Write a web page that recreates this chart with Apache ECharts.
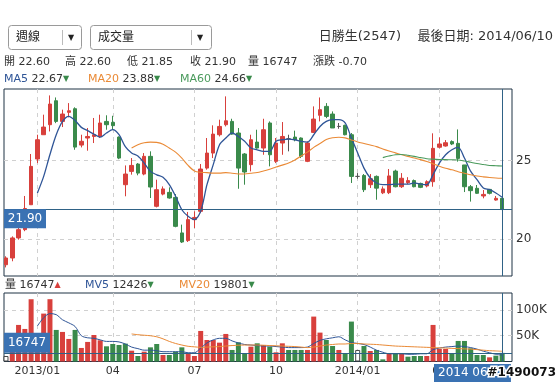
<!DOCTYPE html>
<html><head><meta charset="utf-8">
<script src="https://cdn.jsdelivr.net/npm/echarts@6/dist/echarts.min.js"></script>
<style>html,body{margin:0;padding:0;background:#fff}#c{width:558px;height:382px}</style>
</head><body><div id="c"></div>
<script>
// ---------------- data ----------------
const dates = ['2012/11/30','2012/12/07','2012/12/14','2012/12/21','2012/12/28','2013/01/04','2013/01/11','2013/01/18','2013/01/25','2013/02/01',
'2013/02/06','2013/02/22','2013/03/01','2013/03/08','2013/03/15','2013/03/22','2013/03/29','2013/04/03','2013/04/12','2013/04/19',
'2013/04/26','2013/05/03','2013/05/10','2013/05/17','2013/05/24','2013/05/31','2013/06/07','2013/06/14','2013/06/21','2013/06/28',
'2013/07/05','2013/07/12','2013/07/19','2013/07/26','2013/08/02','2013/08/09','2013/08/16','2013/08/23','2013/08/30','2013/09/06',
'2013/09/13','2013/09/20','2013/09/27','2013/10/04','2013/10/11','2013/10/18','2013/10/25','2013/11/01','2013/11/08','2013/11/15',
'2013/11/22','2013/11/29','2013/12/06','2013/12/13','2013/12/20','2013/12/27','2014/01/03','2014/01/10','2014/01/17','2014/01/24',
'2014/01/27','2014/02/07','2014/02/14','2014/02/21','2014/02/28','2014/03/07','2014/03/14','2014/03/21','2014/03/28','2014/04/03',
'2014/04/11','2014/04/18','2014/04/25','2014/05/02','2014/05/09','2014/05/16','2014/05/23','2014/05/30','2014/06/06','2014/06/10'];

const opens = [18.36,18.79,20.07,20.60,22.19,25.11,26.66,27.30,28.83,27.51,
28.09,28.32,26.00,26.45,26.55,26.55,27.51,27.45,26.51,23.47,
24.32,24.79,24.15,25.28,22.09,22.87,22.98,22.66,20.39,19.90,
21.24,21.77,24.53,25.49,26.66,27.30,27.51,26.77,25.43,24.75,
26.19,25.81,27.41,24.96,26.13,26.40,26.51,26.45,24.96,26.81,
27.90,28.47,27.98,27.19,27.26,26.66,24.00,24.06,23.47,24.00,
22.95,22.96,24.34,23.34,23.60,23.73,23.55,23.39,23.66,25.86,
25.94,26.22,26.11,24.73,23.34,23.24,22.75,23.17,22.49,22.60];
const closes = [18.79,20.07,20.60,21.95,24.64,26.34,27.15,28.62,27.51,27.98,
28.19,25.87,26.24,26.55,26.66,27.41,27.30,27.24,25.17,24.15,
24.70,24.21,25.28,23.32,23.15,23.20,22.62,20.81,19.81,21.24,
21.38,24.47,25.49,26.70,27.19,27.55,26.70,24.53,24.28,26.34,
25.81,26.98,25.38,26.13,26.55,26.40,26.34,25.28,26.13,27.66,
28.26,27.83,27.09,27.19,26.66,24.00,24.00,23.15,23.85,23.25,
23.20,24.03,23.34,23.88,23.73,23.34,23.30,23.66,25.79,26.07,
26.15,26.07,25.15,23.34,23.09,22.92,22.85,22.92,22.60,21.90];
const lows = [18.19,18.58,19.96,20.50,22.19,24.85,26.66,26.87,27.40,27.15,
27.77,25.70,25.85,25.64,26.13,26.45,26.98,26.98,25.10,22.73,
24.11,24.07,24.07,22.62,22.02,22.79,22.58,20.75,19.75,19.81,
20.70,21.66,24.43,25.17,26.55,27.19,26.66,23.21,23.47,24.32,
25.77,25.38,24.64,24.85,25.38,25.60,26.24,25.17,24.91,26.77,
27.51,27.72,27.09,27.04,26.62,23.58,23.85,23.00,23.26,22.51,
22.87,22.87,23.30,23.26,23.50,23.30,23.25,23.30,23.34,25.79,
25.90,26.00,24.94,23.00,22.39,22.88,22.60,22.85,22.45,21.85];
const highs = [18.90,20.17,20.75,22.75,25.43,26.66,27.94,29.17,29.04,28.26,
28.68,28.41,26.66,27.09,27.73,27.94,27.90,27.87,26.55,24.70,
25.17,24.85,25.49,25.60,23.79,23.36,23.30,22.87,20.92,21.73,
21.77,24.79,26.45,27.26,27.62,29.11,27.68,27.09,25.49,26.66,
26.98,27.68,27.51,26.45,27.47,26.66,26.92,26.49,26.24,28.47,
29.04,28.68,28.15,27.41,27.30,26.77,24.21,24.15,24.15,24.06,
23.36,24.47,24.43,24.21,23.95,23.80,23.60,23.75,26.75,26.49,
26.32,26.30,27.00,24.73,23.45,23.45,23.13,23.20,22.75,22.60];
const volumes = [10700,44000,71000,63200,120900,46000,93000,121000,61300,57400,
43800,61300,26300,38000,51500,41200,29500,34000,32000,34700,
21000,10700,19100,27500,34000,12600,12600,19100,27500,15900,
10700,59300,41800,41800,36600,53500,22400,37300,15900,28800,
35300,32100,28800,17800,35300,22400,22400,22400,22400,87200,
56100,41800,30100,22400,15900,77500,22400,30100,20400,22400,
4200,15900,15900,14600,9400,10700,10700,10700,71000,24300,
24300,15900,39900,39900,25600,12600,12600,8100,11300,16747];
const N = null;
const ma5 = [N,N,N,N,N,22.94,24.00,25.40,26.66,27.51,
27.83,27.57,27.13,26.92,26.70,26.51,26.77,26.98,26.66,25.90,
25.50,25.30,24.85,24.32,24.10,23.94,23.47,22.73,21.87,21.45,
21.24,21.77,23.47,24.75,26.02,26.45,26.77,26.55,26.24,25.81,
25.70,25.60,25.60,26.24,26.34,26.38,26.34,26.24,26.19,26.66,
27.19,27.51,27.62,27.62,27.41,26.45,25.49,24.53,23.90,23.58,
23.47,23.47,23.51,23.51,23.51,23.58,23.51,23.47,24.11,24.85,
25.38,25.70,25.85,25.17,24.32,23.79,23.26,23.15,22.94,22.67];
const ma20 = [N,N,N,N,N,N,N,N,N,N,N,N,N,N,N,N,N,N,N,N,
25.81,26.02,26.15,26.19,26.17,26.06,25.81,25.55,25.17,24.70,
24.35,24.26,24.24,24.21,24.21,24.24,24.20,24.15,24.15,24.20,
24.25,24.35,24.45,24.60,24.72,24.85,25.05,25.30,25.55,25.85,
26.10,26.35,26.47,26.50,26.46,26.33,26.20,26.10,26.00,25.90,
25.75,25.62,25.50,25.38,25.28,25.17,25.07,24.95,24.80,24.65,
24.52,24.42,24.30,24.20,24.10,24.02,23.97,23.93,23.90,23.88];
const ma60 = [N,N,N,N,N,N,N,N,N,N,N,N,N,N,N,N,N,N,N,N,
N,N,N,N,N,N,N,N,N,N,N,N,N,N,N,N,N,N,N,N,
N,N,N,N,N,N,N,N,N,N,N,N,N,N,N,N,N,N,N,N,
25.20,25.30,25.38,25.40,25.35,25.28,25.20,25.13,25.10,25.08,
25.07,25.06,25.05,24.98,24.90,24.82,24.76,24.70,24.68,24.66];
const mv5 = [N,N,N,N,N,69000,85000,93000,91000,81000,
75000,68000,50000,46000,45000,42000,39000,39000,38000,34000,
28000,25000,22000,22000,21000,19000,19000,19000,19000,17000,
17000,26000,36000,42000,45000,45000,40000,36000,33000,32000,
31000,30000,30000,29000,28000,27000,27000,27000,28000,35000,
41000,44000,46000,48000,42000,37000,35000,33000,28000,22000,
18000,15000,15000,15000,14000,14000,15000,15000,23000,26000,
28000,29000,30000,29000,27000,24000,20000,17000,14000,12426];
const mv20 = [N,N,N,N,N,N,N,N,N,N,N,N,N,N,N,N,N,N,N,N,
53500,52000,51000,50000,48000,44000,39000,35000,32000,29500,
28500,27500,28000,28500,29000,30000,31000,31500,32000,32000,
32000,31500,31000,30500,30000,29500,29000,28000,27000,28000,
30000,32000,33000,34000,34000,35000,35000,34000,33500,33000,
32000,31000,30000,29500,29000,28500,28000,27500,27000,26500,
26000,25500,25000,24500,24000,23000,22000,21000,20500,19801];
const priceTicks = [20, 25];
const volumeTicks = [50000, 100000];
const stockName = '日勝生(2547)';

// ---------------- style ----------------
const FONT = '"DejaVu Sans", "Noto Sans CJK TC", sans-serif';
const RED = '#d8403c', GREEN = '#3a8a4b';
const C_MA5 = '#2f5597', C_MA20 = '#ea8a36', C_MA60 = '#4a9a5c';
const CROSS = '#2f6286', LABEL_BG = '#3a72b3', FRAME = '#1f3345', GRIDC = '#d0d0d0', TXT = '#333';

const last = dates.length - 1;
const X_MIN = -0.318, X_MAX = 80.57;
const month = d => +d.slice(5, 7);
const labelIdx = dates.map((d, i) => i).filter(i => i > 0 && month(dates[i]) !== month(dates[i - 1]) && [1, 4, 7, 10].includes(month(dates[i])));
const fmtX = v => { const d = dates[Math.round(v)]; return month(d) === 1 ? d.slice(0, 7) : d.slice(5, 7); };

const candleData = dates.map((d, i) => [i, opens[i], closes[i], lows[i], highs[i]]);
const pts = arr => arr.map((v, i) => [i, v]).filter(p => p[1] != null);
const volData = volumes.map((v, i) => {
  const prev = i > 0 ? closes[i - 1] : null;
  let st;
  if (prev == null || closes[i] === prev) st = { color: '#fff', borderColor: '#444', borderWidth: 1 };
  else st = { color: closes[i] > prev ? RED : GREEN };
  return { value: [i, v], itemStyle: st };
});

const fmt2 = v => v.toFixed(2);
const chg = closes[last] - closes[last - 1];

function xAxisCfg(gi, showLabels) {
  return {
    type: 'value', gridIndex: gi, min: X_MIN, max: X_MAX,
    axisLine: { show: false },
    axisTick: { show: false, customValues: labelIdx },
    axisLabel: showLabels ? { customValues: labelIdx, formatter: fmtX, color: TXT, fontSize: 11, fontFamily: FONT, margin: 4 } : { show: false },
    splitLine: { show: true, lineStyle: { color: GRIDC, type: [4, 4], width: 1 } }
  };
}
function lineS(name, data, color, xi, w) {
  return { name, type: 'line', xAxisIndex: xi, yAxisIndex: xi, data: pts(data), symbol: 'none', smooth: 0.3,
    lineStyle: { color, width: w }, silent: true, z: 3 };
}
function txt(x, y, text, opt) {
  return Object.assign({ type: 'text', x, y, silent: true,
    style: Object.assign({ text, font: '11px ' + FONT, fill: TXT, verticalAlign: 'middle', align: 'left' }, (opt || {})) });
}
const rich = {
  b: { fill: C_MA5, font: '11px ' + FONT }, o: { fill: C_MA20, font: '11px ' + FONT }, g: { fill: C_MA60, font: '11px ' + FONT },
  t: { fill: TXT, font: '11px ' + FONT }, dn: { fill: GREEN, font: '8px ' + FONT }, up: { fill: RED, font: '8px ' + FONT }
};
function rtxt(x, y, text) { return { type: 'text', x, y, silent: true, style: { text, rich, font: '11px ' + FONT, verticalAlign: 'middle' } }; }

const chart = echarts.init(document.getElementById('c'), null, { renderer: 'canvas' });
chart.setOption({
  animation: false,
  backgroundColor: '#fff',
  grid: [
    { left: 4, top: 89, width: 508, height: 187, show: true, borderColor: FRAME, borderWidth: 1 },
    { left: 4, top: 293, width: 508, height: 68.5, show: true, borderColor: FRAME, borderWidth: 1 }
  ],
  xAxis: [xAxisCfg(0, false), xAxisCfg(1, true)],
  yAxis: [
    { type: 'value', gridIndex: 0, position: 'right', min: 17.64, max: 29.58, scale: true,
      axisLine: { show: false }, axisTick: { show: false, customValues: priceTicks },
      axisLabel: { customValues: priceTicks, color: TXT, fontSize: 12, fontFamily: FONT, margin: 4 },
      splitLine: { show: true, lineStyle: { color: GRIDC, type: [4, 4] } } },
    { type: 'value', gridIndex: 1, position: 'right', min: 0, max: 133000,
      axisLine: { show: false }, axisTick: { show: false, customValues: volumeTicks },
      axisLabel: { customValues: volumeTicks, formatter: v => (v / 1000) + 'K', color: TXT, fontSize: 12, fontFamily: FONT, margin: 4 },
      splitLine: { show: true, lineStyle: { color: GRIDC, type: [4, 4] } } }
  ],
  series: [
    { type: 'candlestick', xAxisIndex: 0, yAxisIndex: 0, barWidth: 4,
      dimensions: ['idx', 'open', 'close', 'lowest', 'highest'],
      encode: { x: 'idx', y: ['open', 'close', 'lowest', 'highest'] },
      data: candleData,
      itemStyle: { color: RED, color0: GREEN, borderColor: RED, borderColor0: GREEN, borderColorDoji: '#555', borderWidth: 1 },
      markLine: { silent: true, symbol: 'none', label: { show: false }, animation: false,
        lineStyle: { color: CROSS, type: 'solid', width: 1 },
        data: [{ yAxis: closes[last] }, { xAxis: last }] },
      markPoint: { silent: true, symbol: 'rect', symbolSize: [42, 19], symbolOffset: [21, 9.5],
        itemStyle: { color: LABEL_BG },
        label: { show: true, position: 'inside', color: '#fff', fontSize: 12, fontFamily: FONT, formatter: () => fmt2(closes[last]) },
        data: [{ coord: [X_MIN, closes[last]] }] } },
    lineS('MA5', ma5, C_MA5, 0, 1.3),
    lineS('MA20', ma20, C_MA20, 0, 1.1),
    lineS('MA60', ma60, C_MA60, 0, 1.1),
    { type: 'bar', xAxisIndex: 1, yAxisIndex: 1, barWidth: 5, data: volData, silent: true,
      markLine: { silent: true, symbol: 'none', label: { show: false }, animation: false,
        lineStyle: { color: CROSS, type: 'solid', width: 1 },
        data: [{ yAxis: volumes[last] }, { xAxis: last }] },
      markPoint: { silent: true, symbol: 'rect', symbolSize: [46, 20], symbolOffset: [23, -10],
        itemStyle: { color: LABEL_BG },
        label: { show: true, position: 'inside', color: '#fff', fontSize: 12, fontFamily: FONT, formatter: () => String(volumes[last]) },
        data: [{ coord: [X_MIN, volumes[last]] }] } },
    lineS('MV5', mv5, C_MA5, 1, 1),
    lineS('MV20', mv20, C_MA20, 1, 1)
  ],
  graphic: [
    { type: 'rect', silent: true, shape: { x: 8.5, y: 25.5, width: 73, height: 24, r: 3 }, style: { fill: '#fff', stroke: '#9a9a9a', lineWidth: 1 } },
    txt(16, 37.5, '週線', { font: '12px ' + FONT, fill: '#222' }),
    { type: 'line', silent: true, shape: { x1: 62.5, y1: 30, x2: 62.5, y2: 45 }, style: { stroke: '#bbb', lineWidth: 1 } },
    txt(68, 38, '▼', { font: '8px ' + FONT, fill: '#222' }),
    { type: 'rect', silent: true, shape: { x: 90.5, y: 25.5, width: 121, height: 24, r: 3 }, style: { fill: '#fff', stroke: '#9a9a9a', lineWidth: 1 } },
    txt(98, 37.5, '成交量', { font: '12px ' + FONT, fill: '#222' }),
    { type: 'line', silent: true, shape: { x1: 191.5, y1: 30, x2: 191.5, y2: 45 }, style: { stroke: '#bbb', lineWidth: 1 } },
    txt(197, 38, '▼', { font: '8px ' + FONT, fill: '#222' }),
    txt(553, 37, stockName + '    最後日期: ' + dates[last], { align: 'right', font: '13px ' + FONT }),
    txt(4, 62, '開 ' + fmt2(opens[last])),
    txt(65, 62, '高 ' + fmt2(highs[last])),
    txt(127, 62, '低 ' + fmt2(lows[last])),
    txt(190, 62, '收 ' + fmt2(closes[last])),
    txt(248, 62, '量 ' + volumes[last]),
    txt(313, 62, '漲跌 ' + chg.toFixed(2)),
    rtxt(4, 79, '{b|MA5} {t|' + fmt2(ma5[last]) + '}{dn|▼}'),
    rtxt(88, 79, '{o|MA20} {t|' + fmt2(ma20[last]) + '}{dn|▼}'),
    rtxt(180, 79, '{g|MA60} {t|' + fmt2(ma60[last]) + '}{dn|▼}'),
    rtxt(5, 285, '{t|量 ' + volumes[last] + '}{up|▲}'),
    rtxt(85, 285, '{b|MV5} {t|' + Math.round(mv5[last]) + '}{dn|▼}'),
    rtxt(179, 285, '{o|MV20} {t|' + Math.round(mv20[last]) + '}{dn|▼}'),
    { type: 'text', silent: true, x: 434, y: 364, z: 100,
      style: { text: dates[last].slice(0, 4) + ' ' + dates[last].slice(5), font: '12px ' + FONT, fill: '#fff',
        backgroundColor: LABEL_BG, padding: [3, 4, 3, 4], verticalAlign: 'top' } },
    { type: 'text', silent: true, x: 556, y: 373, z: 101,
      style: { text: '#1490073', font: 'bold 12px ' + FONT, fill: '#111', stroke: '#fff', lineWidth: 3, align: 'right', verticalAlign: 'middle' } }
  ]
});
</script></body></html>
